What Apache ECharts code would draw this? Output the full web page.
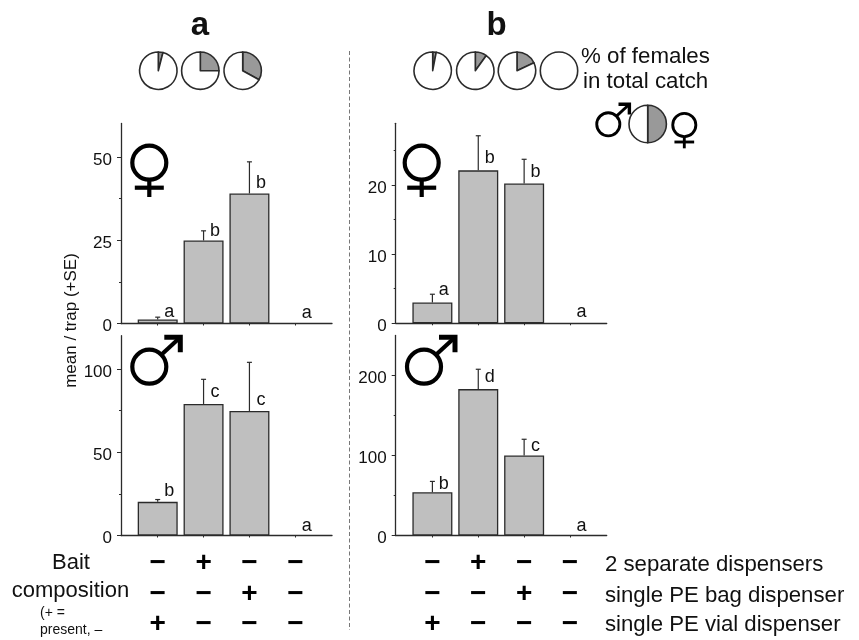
<!DOCTYPE html>
<html>
<head>
<meta charset="utf-8">
<style>html,body{margin:0;background:#fff}#chart{width:859px;height:640px}</style>
<script src="https://cdn.jsdelivr.net/npm/echarts@6/dist/echarts.min.js"></script>
</head>
<body>
<div id="chart"></div>
<script>
// treatments, x positions on the value axis
const treatments = [1, 2, 3, 4];

// bait rows under the bars, per treatment
const rowTwoDispensers = ['−', '+', '−', '−'];
const rowBagDispenser = ['−', '−', '+', '−'];
const rowVialDispenser = ['+', '−', '−', '−'];
const rowNames = ['2 separate dispensers', 'single PE bag dispenser', 'single PE vial dispenser'];

// means
const femaleA = [1.2, 24.9, 39, 0];
const maleA = [20.2, 79, 74.8, 0];
const femaleB = [3, 22.1, 20.2, 0];
const maleB = [54, 183, 100, 0];

// top of the error bars (mean + SE), null = none
const femaleAErr = [1.9, 27.8, 48.5, null];
const maleAErr = [21.6, 93.8, 104, null];
const femaleBErr = [4.2, 27.1, 23.7, null];
const maleBErr = [67.6, 207.8, 120.3, null];

// significance letters
const femaleALetters = ['a', 'b', 'b', 'a'];
const maleALetters = ['b', 'c', 'c', 'a'];
const femaleBLetters = ['a', 'b', 'b', 'a'];
const maleBLetters = ['b', 'd', 'c', 'a'];

// height of the letters on each y scale
const femaleALetterAt = [3.5, 27.7, 42.2, 3.1];
const maleALetterAt = [26.6, 86, 81.6, 5.4];
const femaleBLetterAt = [4.8, 23.9, 21.9, 1.6];
const maleBLetterAt = [64, 197.5, 112, 11.6];

// y axes
const femaleATicks = [0, 25, 50];
const maleATicks = [0, 50, 100];
const femaleBTicks = [0, 10, 20];
const maleBTicks = [0, 100, 200];
const femaleAMinor = [12.5, 37.5];
const maleAMinor = [25, 75];
const femaleBMinor = [5, 15, 25];
const maleBMinor = [50, 150];

// % of females in total catch
const femalePctA = [4, 25, 33];
const femalePctB = [3, 10, 18, 0];
const femalePctKey = [50];

const font = '"Liberation Sans", Arial, sans-serif';
const ink = '#2b2b2b';

const panels = [
  { left: 121, top: 123.5, h: 200, max: 60, values: femaleA, err: femaleAErr, letters: femaleALetters, at: femaleALetterAt, ticks: femaleATicks, minor: femaleAMinor, bottom: false },
  { left: 121, top: 335.7, h: 200, max: 120, values: maleA, err: maleAErr, letters: maleALetters, at: maleALetterAt, ticks: maleATicks, minor: maleAMinor, bottom: true },
  { left: 395.7, top: 123.3, h: 200, max: 28.9, values: femaleB, err: femaleBErr, letters: femaleBLetters, at: femaleBLetterAt, ticks: femaleBTicks, minor: femaleBMinor, bottom: false },
  { left: 395.7, top: 335.5, h: 200.5, max: 250, values: maleB, err: maleBErr, letters: maleBLetters, at: maleBLetterAt, ticks: maleBTicks, minor: maleBMinor, bottom: true }
];

const grids = [], xAxes = [], yAxes = [], series = [];

panels.forEach(function (p, i) {
  grids.push({ left: p.left, top: p.top, width: 211, height: p.h });
  xAxes.push({
    gridIndex: i, type: 'value', min: 0.2, max: 4.8, splitLine: { show: false },
    axisLine: { onZero: false, lineStyle: { color: ink, width: 1.3 } },
    axisTick: { customValues: treatments, length: 2, lineStyle: { color: ink } },
    axisLabel: {
      show: p.bottom, customValues: treatments, margin: 13, color: '#000',
      fontFamily: font, fontWeight: 'bold', fontSize: 28, lineHeight: 30.5,
      formatter: function (v) {
        let k = treatments.indexOf(v);
        return [rowTwoDispensers[k], rowBagDispenser[k], rowVialDispenser[k]].join('\n');
      }
    }
  });
  yAxes.push({
    gridIndex: i, type: 'value', position: 'left', min: 0, max: p.max, splitLine: { show: false },
    axisLine: { show: true, lineStyle: { color: ink, width: 1.3 } },
    axisTick: { customValues: p.ticks, length: 4, lineStyle: { color: ink } },
    // numbers sit a little under their tick in the original
    axisLabel: { customValues: p.ticks, margin: 9, color: '#111', fontFamily: font, fontSize: 17, verticalAlign: 'top', lineHeight: 6 }
  });
  // second axis only carries the short ticks
  yAxes.push({
    gridIndex: i, type: 'value', position: 'left', min: 0, max: p.max, splitLine: { show: false },
    axisLine: { show: false },
    axisTick: { customValues: p.minor, length: 2, lineStyle: { color: ink } },
    axisLabel: { show: false }
  });

  let yIndex = i * 2;
  series.push({
    type: 'bar', xAxisIndex: i, yAxisIndex: yIndex, barWidth: 40, silent: true,
    itemStyle: { color: '#bfbfbf', borderColor: ink, borderWidth: 1.3 },
    data: treatments.map(function (x, k) { return [x, p.values[k]]; }).filter(function (d) { return d[1] > 0; })
  });
  series.push({
    type: 'custom', xAxisIndex: i, yAxisIndex: yIndex, silent: true, clip: false,
    data: treatments.map(function (x, k) { return [x, p.values[k], p.err[k]]; }).filter(function (d) { return d[2] !== null; }),
    renderItem: function (params, api) {
      let a = api.coord([api.value(0), api.value(1)]);
      let b = api.coord([api.value(0), api.value(2)]);
      return {
        type: 'group',
        children: [
          { type: 'line', shape: { x1: a[0], y1: a[1], x2: b[0], y2: b[1] }, style: { stroke: ink, lineWidth: 1.2 } },
          { type: 'line', shape: { x1: b[0] - 2.5, y1: b[1], x2: b[0] + 2.5, y2: b[1] }, style: { stroke: ink, lineWidth: 1.2 } }
        ]
      };
    }
  });
  series.push({
    type: 'custom', xAxisIndex: i, yAxisIndex: yIndex, silent: true, clip: false,
    data: treatments.map(function (x, k) { return [x + 0.25, p.at[k], k]; }),
    renderItem: function (params, api) {
      let c = api.coord([api.value(0), api.value(1)]);
      return {
        type: 'text',
        style: { x: c[0], y: c[1], text: p.letters[api.value(2)], font: '18px ' + font, fill: '#111', textAlign: 'center', textVerticalAlign: 'middle' }
      };
    }
  });
});

function addPie(pct, cx, cy) {
  let slices = [];
  if (pct > 0) { slices.push({ value: pct, itemStyle: { color: '#999999' } }); }
  slices.push({ value: 100 - pct, itemStyle: { color: '#ffffff' } });
  series.push({
    type: 'pie', silent: true, center: [cx, cy], radius: [0, 18.7], startAngle: 90,
    label: { show: false }, labelLine: { show: false }, animation: false,
    itemStyle: { borderColor: '#2b2b2b', borderWidth: 1.6 },
    data: slices
  });
}
const pieXA = [158.3, 200.3, 242.7];
const pieXB = [432.7, 475.3, 517, 559];
femalePctA.forEach(function (v, i) { addPie(v, pieXA[i], 70.7); });
femalePctB.forEach(function (v, i) { addPie(v, pieXB[i], 70.7); });
addPie(femalePctKey[0], 647.7, 124);

function label(text, x, y, size, extra) {
  return Object.assign({
    type: 'text', x: x, y: y, silent: true,
    style: { text: text, font: size + 'px ' + font, fill: '#111', textAlign: 'left', textVerticalAlign: 'middle' }
  }, extra);
}
function centered(text, x, y, size, weight) {
  let t = label(text, x, y, size);
  t.style.textAlign = 'center';
  if (weight) { t.style.font = weight + ' ' + size + 'px ' + font; }
  return t;
}

// sex symbols, drawn as shapes: glyphs in the installed fonts have a much smaller ring
function markStyle(s, w) {
  return { stroke: '#000', fill: 'none', lineWidth: w * s };
}
function femaleMark(cx, cy, s) {
  return {
    type: 'group', x: cx, y: cy, silent: true,
    children: [
      { type: 'circle', shape: { cx: 0, cy: 0, r: 17 * s }, style: markStyle(s, 4.2) },
      { type: 'line', shape: { x1: 0, y1: 17 * s, x2: 0, y2: 34.3 * s }, style: markStyle(s, 4.2) },
      { type: 'line', shape: { x1: -14.5 * s, y1: 25 * s, x2: 14.5 * s, y2: 25 * s }, style: markStyle(s, 4.2) }
    ]
  };
}
function maleMark(cx, cy, s) {
  return {
    type: 'group', x: cx, y: cy, silent: true,
    children: [
      { type: 'circle', shape: { cx: 0, cy: 0, r: 17 * s }, style: markStyle(s, 4.2) },
      { type: 'line', shape: { x1: 12 * s, y1: -12 * s, x2: 31 * s, y2: -29.5 * s }, style: markStyle(s, 4.2) },
      { type: 'polyline', shape: { points: [[15 * s, -29.5 * s], [31 * s, -29.5 * s], [31 * s, -14.5 * s]] }, style: markStyle(s, 5) }
    ]
  };
}

const graphics = [
  { type: 'line', silent: true, shape: { x1: 349.5, y1: 51, x2: 349.5, y2: 630 }, style: { stroke: '#777', lineWidth: 1, lineDash: [4, 2.5] } },
  centered('a', 200, 25.5, 33, 'bold'),
  centered('b', 496.7, 25.5, 33, 'bold'),
  label('% of females', 581, 57, 22.3),
  label('in total catch', 583, 82, 22.3),
  centered('Bait', 71, 563, 22),
  centered('composition', 70.5, 591, 22),
  label('(+ =', 40, 613, 14),
  label('present, –', 40, 630, 14),
  label(rowNames[0], 605, 565, 22.2),
  label(rowNames[1], 605, 596, 22.2),
  label(rowNames[2], 605, 625, 22.2),
  { type: 'text', x: 71, y: 320.5, rotation: Math.PI / 2, silent: true,
    style: { text: 'mean / trap (+SE)', font: '17px ' + font, fill: '#111', textAlign: 'center', textVerticalAlign: 'middle' } },
  femaleMark(149.3, 162.7, 1),
  femaleMark(421.7, 162.7, 1),
  maleMark(149.3, 366.7, 1),
  maleMark(424, 366.7, 1),
  maleMark(608.3, 124.3, 0.68),
  femaleMark(684.3, 125, 0.68)
];

const chart = echarts.init(document.getElementById('chart'), null, { renderer: 'canvas' });
chart.setOption({
  backgroundColor: '#ffffff',
  animation: false,
  grid: grids,
  xAxis: xAxes,
  yAxis: yAxes,
  series: series,
  graphic: graphics
});
</script>
</body>
</html>
